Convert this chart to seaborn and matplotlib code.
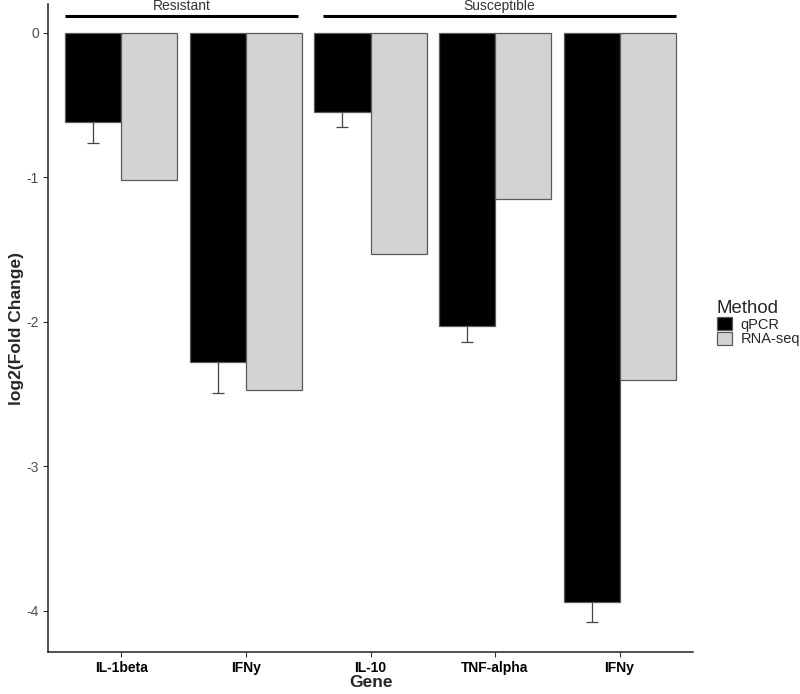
import pandas as pd
import matplotlib
matplotlib.use('Agg')
import matplotlib.pyplot as plt
import seaborn as sns

# data
genes = ['IL-1beta', 'IFNy (R)', 'IL-10', 'TNF-alpha', 'IFNy (S)']
gene_labels = ['IL-1beta', 'IFNy', 'IL-10', 'TNF-alpha', 'IFNy']
groups = ['Resistant', 'Resistant', 'Susceptible', 'Susceptible', 'Susceptible']
qpcr = [-0.62, -2.28, -0.55, -2.03, -3.94]
qpcr_se = [0.14, 0.21, 0.10, 0.11, 0.14]
rnaseq = [-1.02, -2.47, -1.53, -1.15, -2.40]
methods = ['qPCR', 'RNA-seq']

df = pd.DataFrame({
    'Gene': genes * 2,
    'log2FC': qpcr + rnaseq,
    'Method': ['qPCR'] * len(genes) + ['RNA-seq'] * len(genes),
})

sns.set_style('white')
plt.rcParams['font.family'] = ['Liberation Sans', 'DejaVu Sans']
plt.rcParams['axes.unicode_minus'] = False

fig = plt.figure(figsize=(8, 6.94), dpi=100)
ax = fig.add_axes([48 / 800, 1 - 652 / 694, (693 - 48) / 800, (652 - 4) / 694])

sns.barplot(data=df, x='Gene', y='log2FC', hue='Method', order=genes,
            hue_order=methods, palette={'qPCR': 'black', 'RNA-seq': '#D3D3D3'},
            width=0.9, errorbar=None, edgecolor='#5a5a5a', linewidth=0.9,
            zorder=2, ax=ax)

# error bars on the qPCR bars (drawn behind the bars, so only the lower half shows)
centers = [b.get_x() + b.get_width() / 2 for b in ax.containers[0]]
ax.errorbar(centers, qpcr, yerr=qpcr_se, fmt='none', ecolor='#444444',
            elinewidth=0.9, capsize=4.3, capthick=0.9, zorder=1)

ax.set_ylim(-4.285, 0.2)
ax.set_xlim(-0.59, len(genes) - 0.41)
ax.set_yticks([0, -1, -2, -3, -4])
ax.set_xticks(range(len(genes)))
ax.set_xticklabels(gene_labels, fontsize=10, fontweight='bold', color='black')
ax.tick_params(axis='y', labelsize=10, labelcolor='#4D4D4D')
ax.tick_params(length=3.5, width=0.8, color='#333333', pad=3, left=True, bottom=True)

for side in ['top', 'right']:
    ax.spines[side].set_visible(False)
for side in ['left', 'bottom']:
    ax.spines[side].set_color('#222222')
    ax.spines[side].set_linewidth(1.1)

ax.set_xlabel('Gene', fontsize=12.5, fontweight='bold', labelpad=0)
ax.set_ylabel('log2(Fold Change)', fontsize=12.5, fontweight='bold', labelpad=2)

# group brackets above the bars
for g in ['Resistant', 'Susceptible']:
    idx = [i for i, x in enumerate(groups) if x == g]
    x0, x1 = min(idx) - 0.45, max(idx) + 0.45
    if g == 'Resistant':
        x1 -= 0.03
    else:
        x0 += 0.07
    ax.plot([x0, x1], [0.118, 0.118], color='black', lw=2.2,
            solid_capstyle='butt', clip_on=False)
    ax.text((x0 + x1) / 2, 0.135, g, ha='center', va='bottom',
            fontsize=10, color='#333333', clip_on=False)

sns.move_legend(ax, 'upper left', bbox_to_anchor=(717 / 800, 1 - 300 / 694),
                bbox_transform=fig.transFigure, frameon=False, title='Method',
                fontsize=10.5, title_fontsize=13.4, handlelength=1.0,
                handleheight=1.0, labelspacing=0.0, handletextpad=0.6,
                borderpad=0, borderaxespad=0, alignment='left')

fig.savefig('out.png', dpi=100)
